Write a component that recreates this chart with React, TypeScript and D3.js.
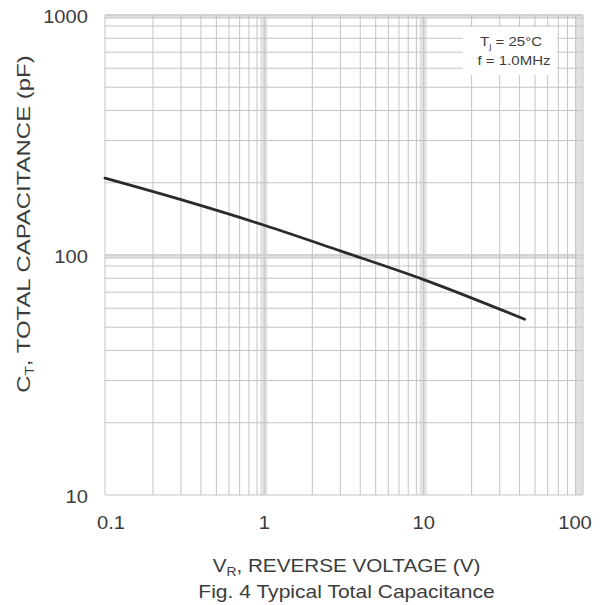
import React from "react";
import * as d3 from "d3";

const voltage = [0.1, 0.3, 1, 3, 10, 43];
const capacitance = [209, 170, 133, 104, 79, 54];
const xTicks = [0.1, 1, 10, 100];
const xTickLabels = ["0.1", "1", "10", "100"];
const yTicks = [10, 100, 1000];
const yTickLabels = ["10", "100", "1000"];
const legendLines = ["T|j| = 25°C", "f = 1.0MHz"];

const W = 603, H = 605;
const L = 105, R = 583, T = 15, B = 495;
const font = "Liberation Sans, Arial, sans-serif";
const textColor = "#3c3c3c";

function SText({ x, y, sx = 1, size, anchor = "middle", rotate = 0, children }: any) {
  return (
    <g transform={`translate(${x},${y}) rotate(${rotate}) scale(${sx},1)`}>
      <text x={0} y={0} fontFamily={font} fontSize={size} fill={textColor} textAnchor={anchor}>
        {children}
      </text>
    </g>
  );
}

export default function App() {
  const x = d3.scaleLog().domain([0.1, 100]).range([L, R]);
  const y = d3.scaleLog().domain([10, 1000]).range([B, T]);

  const xMinor: number[] = [];
  for (const dec of [0.1, 1, 10]) for (let m = 2; m <= 9; m++) xMinor.push(dec * m);
  const yMinor: number[] = [];
  for (const dec of [10, 100]) for (let m = 2; m <= 9; m++) yMinor.push(dec * m);

  const line = d3
    .line<number>()
    .x((_, i) => x(voltage[i]))
    .y((d) => y(d))
    .curve(d3.curveMonotoneX);

  const gridColor = "#c4c4c4";
  const bandColor = "#e2e2e2";

  const lx = 463, ly = 27, lw = 94, lh = 48;

  return (
    <svg width={W} height={H} style={{ position: "absolute", left: 0, top: 0, background: "#fff" }}>
      <rect x={0} y={0} width={W} height={H} fill="#fff" />
      {/* decade bands */}
      {[1, 10, 100].map((v) => (
        <rect key={"xb" + v} x={x(v) - (v === 100 ? 8 : 4)} y={T} width={v === 100 ? 8 : 7} height={B - T} fill={bandColor} />
      ))}
      {[100, 1000].map((v) => (
        <rect key={"yb" + v} x={L} y={y(v) - 1} width={R - L} height={4} fill={bandColor} />
      ))}
      {/* minor grid */}
      {xMinor.map((v) => (
        <line key={"xm" + v} x1={x(v)} x2={x(v)} y1={T} y2={B} stroke={gridColor} strokeWidth={1} />
      ))}
      {yMinor.map((v) => (
        <line key={"ym" + v} x1={L} x2={R} y1={y(v)} y2={y(v)} stroke={gridColor} strokeWidth={1} />
      ))}
      {xTicks.map((v) => (
        <line key={"xt" + v} x1={x(v)} x2={x(v)} y1={T} y2={B} stroke={gridColor} strokeWidth={1} />
      ))}
      {yTicks.map((v) => (
        <line key={"yt" + v} x1={L} x2={R} y1={y(v)} y2={y(v)} stroke={gridColor} strokeWidth={1} />
      ))}
      <line x1={L} x2={R} y1={y(1000) + 3} y2={y(1000) + 3} stroke={gridColor} />
      <line x1={L} x2={R} y1={y(100) + 3} y2={y(100) + 3} stroke={gridColor} />

      {/* legend box */}
      <rect x={lx} y={ly} width={lw} height={lh} fill="#fff" />
      <SText x={511} y={46} sx={1.25} size={12}>
        T<tspan fontSize={8} dy={3}>j</tspan>
        <tspan dy={-3}> = 25°C</tspan>
      </SText>
      <SText x={514} y={65} sx={1.25} size={12}>
        {legendLines[1]}
      </SText>

      {/* curve */}
      <path d={line(capacitance) || ""} fill="none" stroke="#2b2b2b" strokeWidth={2.8} strokeLinecap="round" />

      {/* tick labels */}
      {xTicks.map((v, i) => (
        <SText
          key={"xl" + v}
          x={x(v) + (i === 0 ? 6 : i === xTicks.length - 1 ? -8 : 0)}
          y={529}
          sx={1.12}
          size={18}
        >
          {xTickLabels[i]}
        </SText>
      ))}
      {yTicks.map((v, i) => (
        <SText key={"yl" + v} x={88} y={y(v) + 7.5} sx={1.12} size={18} anchor="end">
          {yTickLabels[i]}
        </SText>
      ))}

      {/* axis titles */}
      <SText x={346.5} y={572} sx={1.15} size={18}>
        V<tspan fontSize={12} dy={4}>R</tspan>
        <tspan dy={-4}>, REVERSE VOLTAGE (V)</tspan>
      </SText>
      <SText x={346.5} y={598} sx={1.17} size={18}>
        Fig. 4  Typical Total Capacitance
      </SText>
      <SText x={30} y={224} rotate={-90} sx={1.26} size={19}>
        C<tspan fontSize={12} dy={4}>T</tspan>
        <tspan dy={-4}>, TOTAL CAPACITANCE (pF)</tspan>
      </SText>
    </svg>
  );
}
